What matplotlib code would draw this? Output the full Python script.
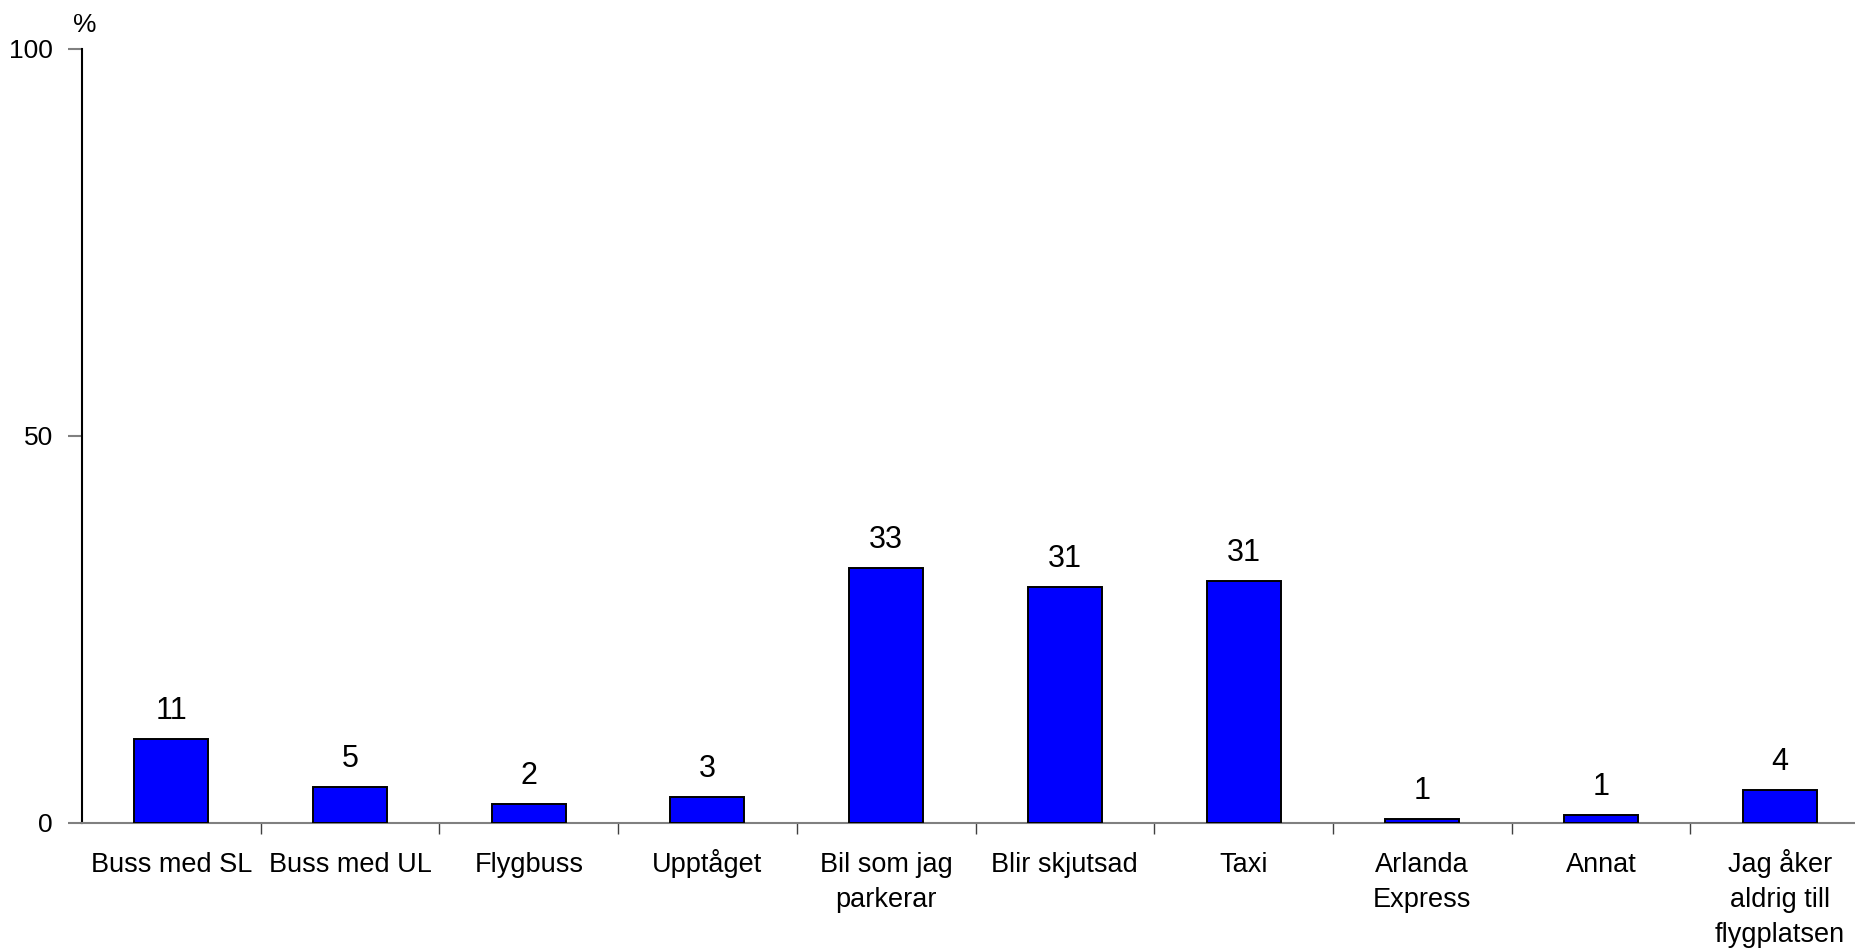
import matplotlib.pyplot as plt
from matplotlib.font_manager import FontProperties

plt.rcParams['font.family'] = ['Liberation Sans', 'DejaVu Sans']

categories = ["Buss med SL", "Buss med UL", "Flygbuss", "Upptåget", "Bil som jag\nparkerar",
              "Blir skjutsad", "Taxi", "Arlanda\nExpress", "Annat", "Jag åker\naldrig till\nflygplatsen"]
values = [10.8, 4.65, 2.4, 3.4, 32.9, 30.5, 31.3, 0.55, 1.07, 4.2]
labels = ["11", "5", "2", "3", "33", "31", "31", "1", "1", "4"]
yticks = [0, 50, 100]

DPI = 100
CAT_SIZE = 19.5
LINESPACING = 1.44

fig = plt.figure(figsize=(18.56, 9.49), dpi=DPI)
ax = fig.add_axes([0.0442, 0.1328, 0.9628, 0.8156])

x = list(range(len(categories)))
ax.bar(x, values, width=0.414, color="#0000FF", edgecolor="black", linewidth=1.4, zorder=3)

for xi, v, lab in zip(x, values, labels):
    ax.annotate(lab, (xi, v), xytext=(0, 14.5), textcoords="offset points",
                ha="center", va="baseline", fontsize=22)

ax.set_xlim(-0.5, len(categories) - 0.5)
ax.set_ylim(0, 100)

# ticks sit on category boundaries, names go under bar centres
ax.set_xticks([i + 0.5 for i in x[:-1]] + [len(categories) - 0.5])
ax.set_xticklabels([])
ax.tick_params(axis="x", direction="out", length=8, width=1, color="#404040")

# line step as matplotlib lays it out (descent + scaled ascent),
# so every first line shares one baseline
renderer = fig.canvas.get_renderer()
_, lp_h, lp_d = renderer.get_text_width_height_descent(
    "lp", FontProperties(family="Liberation Sans", size=CAT_SIZE), ismath=False)
step_pt = (lp_d + (lp_h - lp_d) * LINESPACING) * 72.0 / DPI

for xi, name in zip(x, categories):
    nlines = name.count("\n") + 1
    ax.annotate(name, (xi, 0), xycoords=("data", "axes fraction"),
                xytext=(0, -35.3 - (nlines - 1) * step_pt), textcoords="offset points",
                ha="center", va="baseline", multialignment="center",
                fontsize=CAT_SIZE, linespacing=LINESPACING, annotation_clip=False)

ax.set_yticks(yticks)
ax.set_yticklabels([str(t) for t in yticks], fontsize=19)
ax.tick_params(axis="y", direction="out", length=10, width=1.5, color="#808080", pad=11)

for s in ["top", "right"]:
    ax.spines[s].set_visible(False)
ax.spines["left"].set_color("black")
ax.spines["left"].set_linewidth(1.5)
ax.spines["bottom"].set_color("#808080")
ax.spines["bottom"].set_linewidth(1.5)

ax.text(0.0017, 1.022, "%", transform=ax.transAxes, ha="center", va="baseline", fontsize=19)

fig.savefig("out.png", dpi=DPI)
